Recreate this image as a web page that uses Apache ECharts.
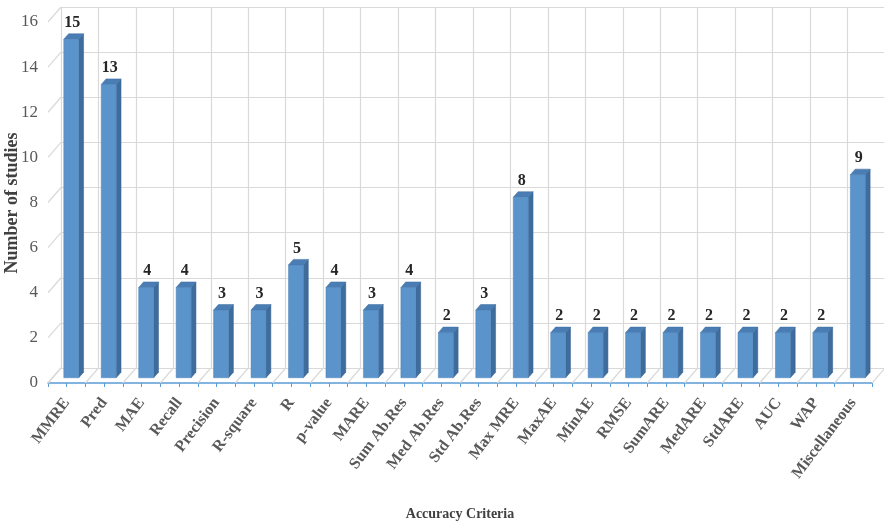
<!DOCTYPE html>
<html><head><meta charset="utf-8">
<script src="https://cdn.jsdelivr.net/npm/echarts@6/dist/echarts.min.js"></script>
<style>html,body{margin:0;padding:0;background:#fff}#c{width:884px;height:523px}</style>
</head><body><div id="c"></div>
<script>
const categories = ['MMRE','Pred','MAE','Recall','Precision','R-square','R','p-value','MARE','Sum Ab.Res','Med Ab.Res','Std Ab.Res','Max MRE','MaxAE','MinAE','RMSE','SumARE','MedARE','StdARE','AUC','WAP','Miscellaneous'];
const values = [15,13,4,4,3,3,5,4,3,4,2,3,8,2,2,2,2,2,2,2,2,9];
const yTicks = [0,2,4,6,8,10,12,14,16];
const yTitle = 'Number of studies';
const xTitle = 'Accuracy Criteria';

const FONT = 'Liberation Serif';
const DX = 13, DY = -15;      // depth vector of the 3D box
const F0 = 0.35, F1 = 0.72;   // bar depth range
const BAR = 0.40;             // bar width fraction of band
const boundaries = categories.map((c,i)=>i).concat([categories.length]);
const halfTicks = new Array(categories.length*2).fill('');

const chart = echarts.init(document.getElementById('c'));
chart.setOption({
  animation:false,
  grid:[
    {left:48, top:22, width:824, height:361, outerBoundsMode:'none', containLabel:false},
    {left:61, top:7, width:824, height:361, outerBoundsMode:'none', containLabel:false}
  ],
  graphic:[
    {type:'text', x:12, y:203, rotation:Math.PI/2,
     style:{text:yTitle, textAlign:'center', textVerticalAlign:'middle',
            fill:'#404040', font:'bold 18px "'+FONT+'"'}}
  ],
  xAxis:[
    {type:'category', gridIndex:0, data:categories,
     axisLine:{lineStyle:{color:'#5b9bd5', width:1.5}},
     axisTick:{show:false},
     axisLabel:{rotate:53, interval:0, margin:17, color:'#595959', fontFamily:FONT, fontWeight:'bold', fontSize:16},
     name:xTitle, nameLocation:'middle', nameGap:124,
     nameTextStyle:{color:'#404040', fontFamily:FONT, fontWeight:'bold', fontSize:14}},
    {type:'category', gridIndex:0, data:halfTicks, position:'bottom',
     axisLine:{show:false}, axisLabel:{show:false},
     axisTick:{show:true, interval:0, length:4, lineStyle:{color:'#5b9bd5'}}},
    {type:'category', gridIndex:1, data:categories,
     axisLine:{show:false}, axisTick:{show:false, interval:0}, axisLabel:{show:false, interval:0},
     splitLine:{show:true, interval:0, lineStyle:{color:'#d9d9d9', width:1.2}}}
  ],
  yAxis:[
    {type:'value', gridIndex:0, min:0, max:16, interval:2,
     axisLine:{show:false}, axisTick:{show:false}, splitLine:{show:false},
     axisLabel:{color:'#595959', fontFamily:FONT, fontSize:17, margin:10}},
    {type:'value', gridIndex:1, min:0, max:16, interval:2,
     axisLine:{show:false}, axisTick:{show:false}, axisLabel:{show:false},
     splitLine:{show:true, lineStyle:{color:'#d9d9d9', width:1.2}}}
  ],
  series:[
    { // side wall slants
      type:'custom', xAxisIndex:0, yAxisIndex:0, silent:true, z:1, clip:false,
      data:yTicks.map(v=>[0,v]),
      renderItem:function(params, api){
        const bw = api.size([1,0])[0];
        const p = api.coord([0, api.value(1)]);
        const x = p[0]-bw/2;
        return {type:'line', shape:{x1:x, y1:p[1], x2:x+DX, y2:p[1]+DY},
                style:{stroke:'#d9d9d9', lineWidth:1.2}};
      }
    },
    { // floor slants
      type:'custom', xAxisIndex:0, yAxisIndex:0, silent:true, z:1, clip:false,
      data:boundaries.map(k=>[k,0]),
      renderItem:function(params, api){
        const bw = api.size([1,0])[0];
        const p = api.coord([0, 0]);
        const x = p[0]-bw/2 + api.value(0)*bw;
        return {type:'line', shape:{x1:x, y1:p[1], x2:x+DX, y2:p[1]+DY},
                style:{stroke:'#d9d9d9', lineWidth:1.2}};
      }
    },
    { // 3D bars
      type:'custom', xAxisIndex:0, yAxisIndex:0, z:5, clip:false,
      data:values.map((v,i)=>[i,v]),
      renderItem:function(params, api){
        const i = api.value(0), v = api.value(1);
        const bw = api.size([1,0])[0];
        const b = api.coord([i,0]), t = api.coord([i,v]);
        const w = bw*BAR;
        const ox0 = DX*F0, oy0 = DY*F0, ox1 = DX*F1, oy1 = DY*F1;
        const xl = b[0]-w/2+ox0, xr = b[0]+w/2+ox0;
        const yb = b[1]+oy0, yt = t[1]+oy0;
        const sx = ox1-ox0, sy = oy1-oy0;
        return {type:'group', children:[
          {type:'polygon', shape:{points:[[xr,yb],[xr+sx,yb+sy],[xr+sx,yt+sy],[xr,yt]]},
           style:{fill:'#3e6c9c', stroke:'#365f8a', lineWidth:0.5}},
          {type:'polygon', shape:{points:[[xl,yt],[xr,yt],[xr+sx,yt+sy],[xl+sx,yt+sy]]},
           style:{fill:'#4a7db3', stroke:'#3f6e9f', lineWidth:0.5}},
          {type:'rect', shape:{x:xl, y:yt, width:w, height:yb-yt},
           style:{fill:'#5b93cb', stroke:'#4c80b6', lineWidth:0.5}},
          {type:'text', style:{text:String(v), x:(xl+xr)/2+1, y:yt+sy-3,
             textAlign:'center', textVerticalAlign:'bottom',
             fill:'#262626', font:'bold 16px "'+FONT+'"'}}
        ]};
      }
    }
  ]
});
</script></body></html>
